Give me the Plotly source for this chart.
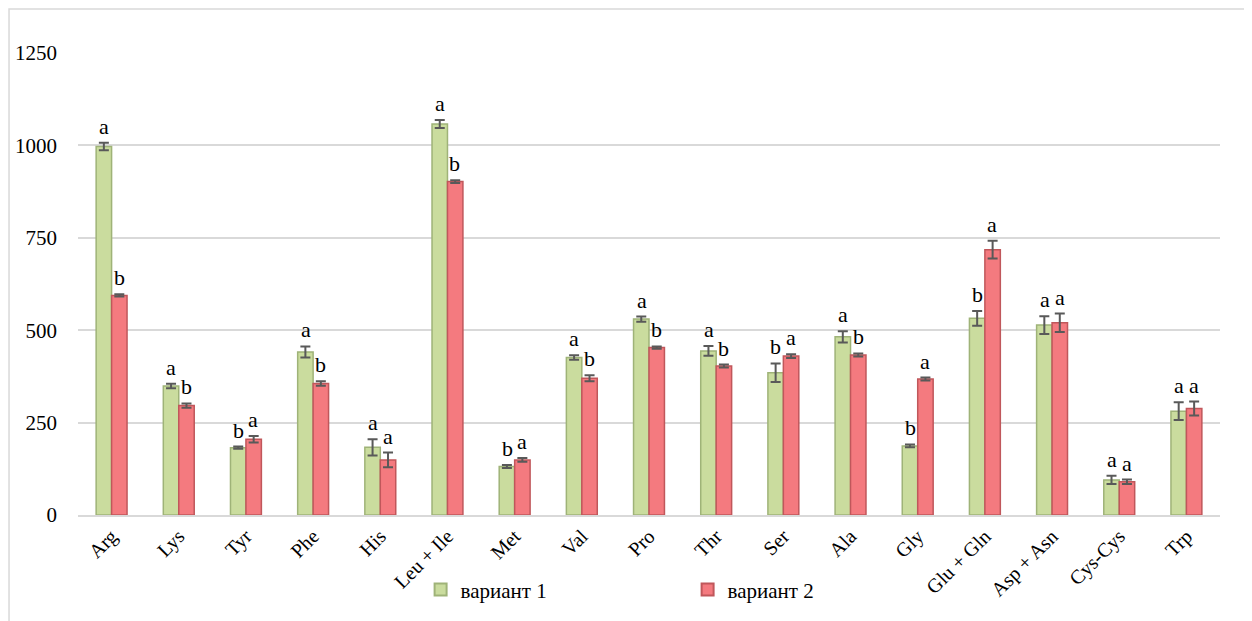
import plotly.graph_objects as go

categories = ["Arg", "Lys", "Tyr", "Phe", "His", "Leu + Ile", "Met", "Val", "Pro",
              "Thr", "Ser", "Ala", "Gly", "Glu + Gln", "Asp + Asn", "Cys-Cys", "Trp"]
v1_values = [997, 349, 182, 441, 183, 1058, 131, 426, 530, 444, 385, 482, 187, 532, 514, 95, 281]
v1_errors = [10, 6, 3, 15, 22, 11, 4, 6, 7, 13, 25, 15, 4, 20, 24, 11, 24]
v1_letters = ["a", "a", "b", "a", "a", "a", "b", "a", "a", "a", "b", "a", "b", "b", "a", "a", "a"]
v2_values = [594, 296, 205, 356, 149, 902, 149, 370, 453, 403, 430, 433, 368, 718, 520, 90, 288]
v2_errors = [3, 6, 9, 6, 20, 4, 5, 8, 3, 4, 5, 4, 4, 24, 25, 6, 19]
v2_letters = ["b", "b", "a", "b", "a", "b", "a", "b", "b", "b", "a", "b", "a", "a", "a", "a", "a"]
series_names = ["вариант 1", "вариант 2"]

FONT = "Liberation Serif, DejaVu Serif, serif"
ERR_COLOR = "#595959"

fig = go.Figure()
fig.add_trace(go.Bar(
    x=categories, y=v1_values, name=series_names[0],
    marker=dict(color="#cadc9e", line=dict(color="#9fb378", width=1.5)),
    error_y=dict(type="data", array=v1_errors, visible=True, color=ERR_COLOR,
                 thickness=2, width=5),
))
fig.add_trace(go.Bar(
    x=categories, y=v2_values, name=series_names[1],
    marker=dict(color="#f47a7f", line=dict(color="#c0575b", width=1.5)),
    error_y=dict(type="data", array=v2_errors, visible=True, color=ERR_COLOR,
                 thickness=2, width=5),
))

annotations = []
for cat, v, e, lab in zip(categories, v1_values, v1_errors, v1_letters):
    annotations.append(dict(x=cat, y=v + e, text=lab, showarrow=False, xref="x", yref="y",
                            xshift=-7.5, yshift=2, yanchor="bottom",
                            font=dict(family=FONT, size=22, color="#000")))
for cat, v, e, lab in zip(categories, v2_values, v2_errors, v2_letters):
    annotations.append(dict(x=cat, y=v + e, text=lab, showarrow=False, xref="x", yref="y",
                            xshift=7.5, yshift=2, yanchor="bottom",
                            font=dict(family=FONT, size=22, color="#000")))

fig.update_layout(
    width=1252, height=621,
    margin=dict(l=70, r=40, t=45, b=114, autoexpand=False),
    paper_bgcolor="white", plot_bgcolor="white",
    barmode="group", bargap=0.54, bargroupgap=0.0,
    font=dict(family=FONT, size=17, color="#000"),
    showlegend=True,
    legend=dict(orientation="h", x=0.3, xanchor="left", y=-0.162, yanchor="middle",
                font=dict(family=FONT, size=21), entrywidth=222, entrywidthmode="pixels",
                itemsizing="constant", bgcolor="rgba(0,0,0,0)"),
    annotations=annotations,
    shapes=[dict(type="rect", xref="paper", yref="paper", x0=-0.0604, x1=1.1,
                 y0=-0.5, y1=1.095, line=dict(color="#d9d9d9", width=1.5),
                 fillcolor="rgba(0,0,0,0)", layer="below")],
)
fig.update_xaxes(
    tickangle=-45, tickfont=dict(family=FONT, size=20),
    showline=True, linecolor="#d9d9d9", linewidth=1.5, ticks="", showgrid=False,
)
fig.update_yaxes(
    range=[0, 1250], tickvals=[0, 250, 500, 750, 1000, 1250],
    showgrid=True, gridcolor="#d9d9d9", gridwidth=1.5, zeroline=False,
    tickfont=dict(family=FONT, size=21), ticklabelstandoff=20, showline=False,
)

fig.write_html("out.html")
